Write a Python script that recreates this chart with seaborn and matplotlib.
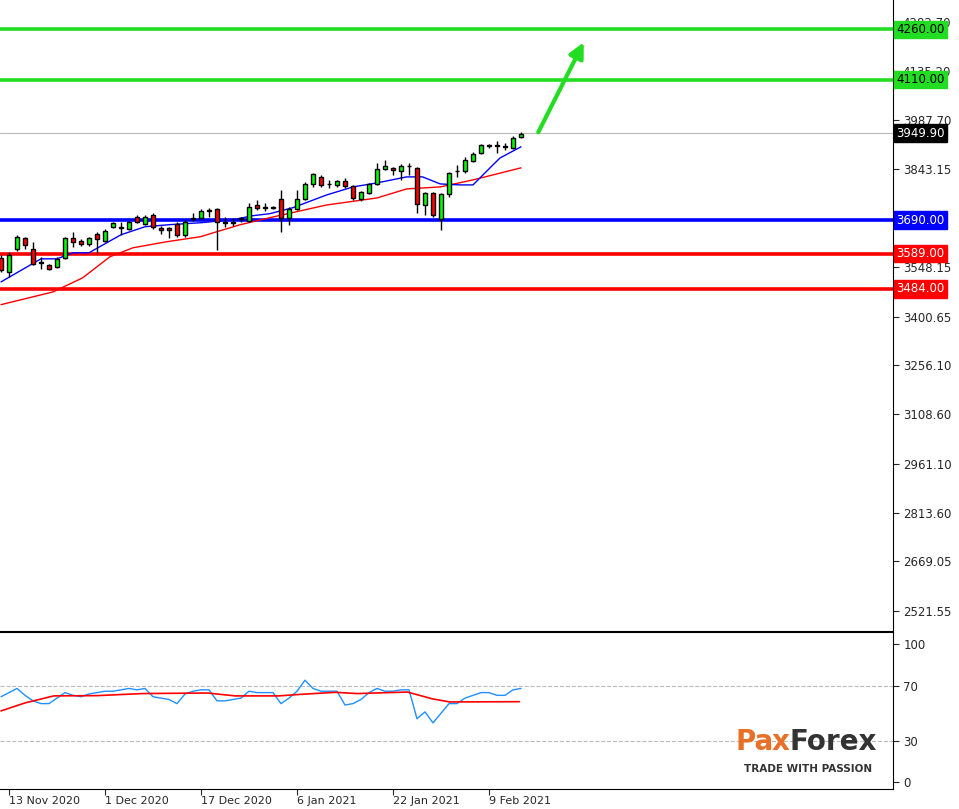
import matplotlib
matplotlib.use("Agg")
import matplotlib.pyplot as plt
import numpy as np
import pandas as pd
import seaborn as sns

# ── data ──────────────────────────────────────────────────────────────────────
opens = [3577, 3535, 3604, 3637, 3604, 3562, 3556, 3550, 3577, 3637, 3628, 3619, 3649, 3628,
         3670, 3666, 3664, 3700, 3679, 3706, 3667, 3667, 3679, 3646, 3692, 3697, 3717, 3724,
         3682, 3682, 3694, 3688, 3735, 3727, 3727, 3753, 3697, 3724, 3753, 3798, 3819, 3797,
         3795, 3807, 3792, 3753, 3771, 3798, 3843, 3846, 3837, 3851, 3846, 3735, 3771, 3694,
         3768, 3836, 3837, 3867, 3891, 3911, 3911, 3908, 3906, 3939]
closes = [3541, 3586, 3640, 3616, 3559, 3565, 3544, 3574, 3637, 3625, 3619, 3637, 3634, 3658,
          3682, 3668, 3685, 3685, 3700, 3670, 3661, 3661, 3646, 3685, 3695, 3718, 3719, 3685,
          3684, 3683, 3695, 3730, 3727, 3728, 3728, 3697, 3724, 3753, 3798, 3828, 3795, 3799,
          3807, 3792, 3756, 3774, 3798, 3843, 3852, 3840, 3852, 3853, 3739, 3771, 3706, 3768,
          3831, 3838, 3870, 3888, 3915, 3913, 3913, 3910, 3936, 3948]
highs = [3586, 3595, 3646, 3640, 3625, 3580, 3560, 3578, 3640, 3655, 3632, 3640, 3655, 3664,
         3685, 3685, 3688, 3706, 3704, 3712, 3672, 3670, 3685, 3690, 3710, 3722, 3725, 3727,
         3700, 3697, 3700, 3740, 3750, 3740, 3733, 3780, 3730, 3780, 3805, 3832, 3825, 3810,
         3810, 3815, 3795, 3778, 3800, 3861, 3870, 3850, 3858, 3860, 3850, 3775, 3775, 3772,
         3835, 3855, 3878, 3892, 3918, 3918, 3925, 3920, 3940, 3952]
lows = [3535, 3520, 3598, 3604, 3556, 3545, 3540, 3548, 3574, 3610, 3612, 3612, 3592, 3625,
        3665, 3645, 3660, 3680, 3676, 3662, 3648, 3637, 3640, 3640, 3688, 3694, 3700, 3601,
        3670, 3672, 3685, 3685, 3720, 3718, 3722, 3655, 3676, 3720, 3750, 3790, 3790, 3785,
        3790, 3785, 3750, 3748, 3768, 3795, 3840, 3825, 3810, 3825, 3712, 3705, 3700, 3661,
        3760, 3820, 3830, 3863, 3888, 3905, 3890, 3900, 3903, 3935]

ma_fast_bar = [0, 5, 7, 9, 11, 15, 18, 21, 25, 29, 31.5, 33.6, 36.5, 40.7, 44, 47, 50.7,
               52.7, 54.9, 57.4, 59, 61.5, 62.4, 65]
ma_fast_val = [3505, 3574, 3574, 3592, 3592, 3646, 3670, 3676, 3682, 3691, 3703, 3709, 3727,
               3765, 3789, 3801, 3819, 3819, 3798, 3795, 3795, 3855, 3876, 3909]
ma_slow_bar = [0, 6.5, 10.2, 13.6, 16.5, 20.7, 24.9, 29.9, 33.6, 40.7, 47, 50.7, 54.9, 59, 65]
ma_slow_val = [3437, 3475, 3517, 3580, 3607, 3625, 3640, 3676, 3697, 3735, 3756, 3783, 3789,
               3810, 3846]

rsi = [62, 65, 68, 63, 59, 57, 57, 61, 65, 63, 62, 64, 65, 66, 66, 67, 68, 67, 68, 62, 61, 60,
       57, 64, 66, 67, 67, 59, 59, 60, 61, 66, 65, 65, 65, 57, 61, 66, 74, 68, 66, 66, 66, 56,
       57, 60, 65, 68, 66, 66, 67, 67, 46, 51, 43, 50, 57, 57, 61, 63, 65, 65, 63, 63, 67, 68]
rsi_sig_bar = [0, 3, 6.6, 12, 17.7, 25.8, 29.3, 34.7, 37.4, 41.8, 44.5, 50.8, 53.9, 56.1, 64.8]
rsi_sig_val = [51.7, 57.5, 62.6, 62.8, 64.3, 64.7, 62.6, 62.6, 63.7, 65.2, 64.3, 65.4, 60.5,
               58.2, 58.4]

date_ticks = [1, 13, 25, 37, 49, 61]
date_labels = ["13 Nov 2020", "1 Dec 2020", "17 Dec 2020", "6 Jan 2021", "22 Jan 2021",
               "9 Feb 2021"]
price_ticks = [4282.70, 4135.20, 3987.70, 3843.15, 3548.15, 3400.65, 3256.10, 3108.60,
               2961.10, 2813.60, 2669.05, 2521.55]
levels = [4260, 4110, 3690, 3589, 3484]
level_colors = ["#22dd22", "#22dd22", "#0000ff", "#ff0000", "#ff0000"]
last_price = 3949.90
arrow_from = (67, 3945)
arrow_to = (73, 4229)

sns.set_style("white")
plt.rcParams["font.family"] = ["DejaVu Sans"]

W, H = 959, 809
fig = plt.figure(figsize=(W / 100, H / 100), dpi=100)
ax = fig.add_axes([0, (H - 630) / H, 893 / W, 630 / H])
ax2 = fig.add_axes([0, (H - 789) / H, 893 / W, 157 / H])

xlim = (-0.125, 111.5)
bars = pd.DataFrame({"o": opens, "c": closes, "h": highs, "l": lows})
bars["i"] = np.arange(len(bars))

# levels
for lv, col in zip(levels, level_colors):
    ax.axhline(lv, color=col, lw=2.6, zorder=1)
ax.axhline(last_price, color="#bbbbbb", lw=0.8, zorder=1)

# moving averages
sns.lineplot(x=ma_slow_bar, y=ma_slow_val, ax=ax, color="#ff0000", lw=1, zorder=2)
sns.lineplot(x=ma_fast_bar, y=ma_fast_val, ax=ax, color="#0000ff", lw=1, zorder=2)

# candles
ax.vlines(bars["i"], bars["l"], bars["h"], color="black", lw=1, zorder=3)
up = bars["c"] >= bars["o"]
body_col = np.where(up, "#00ff00", "#ff0000")
ax.bar(bars["i"], (bars["c"] - bars["o"]).abs().clip(lower=1.5),
       bottom=bars[["o", "c"]].min(axis=1), width=0.6, color=body_col,
       edgecolor="black", lw=1, zorder=4)

ax.annotate("", xy=arrow_to, xytext=arrow_from,
            arrowprops=dict(arrowstyle="-|>,head_length=0.9,head_width=0.45",
                            color="#22dd22", lw=3), zorder=5)

ax.set_xlim(*xlim)
ax.set_ylim(2464, 4348)
ax.yaxis.tick_right()
ax.set_yticks(price_ticks)
ax.set_yticklabels([f"{p:.2f}" for p in price_ticks], fontsize=8.5)
ax.set_xticks([])
ax.tick_params(axis="y", length=4, direction="out", right=True, pad=3)
for s in ["top", "left", "bottom"]:
    ax.spines[s].set_visible(False)
ax.spines["right"].set_color("black")

# price boxes on the axis
box_items = [(4260, "#22dd22", "black"), (4110, "#22dd22", "black"),
             (last_price, "black", "white"), (3690, "#0000ff", "white"),
             (3589, "#ff0000", "white"), (3484, "#ff0000", "white")]
for val, bg, fg in box_items:
    ax.text(1.004, val, f"{val:.2f}", transform=ax.get_yaxis_transform(),
            ha="left", va="center", fontsize=8.5, color=fg, zorder=10,
            bbox=dict(boxstyle="square,pad=0.18", fc=bg, ec=bg))

# RSI
ax2.axhline(70, color="#bbbbbb", lw=0.8, ls="--")
ax2.axhline(30, color="#bbbbbb", lw=0.8, ls="--")
sns.lineplot(x=np.arange(len(rsi)), y=rsi, ax=ax2, color="#1e90ff", lw=1)
sns.lineplot(x=rsi_sig_bar, y=rsi_sig_val, ax=ax2, color="#ff0000", lw=1.2)
ax2.set_xlim(*xlim)
ax2.set_ylim(-5, 109)
ax2.yaxis.tick_right()
ax2.set_yticks([100, 70, 30, 0])
ax2.set_yticklabels(["100", "70", "30", "0"], fontsize=8.5)
ax2.set_xticks(date_ticks)
ax2.set_xticklabels(date_labels, fontsize=8, ha="left")
ax2.tick_params(axis="x", length=4, direction="out", bottom=True, pad=1)
ax2.tick_params(axis="y", length=4, direction="out", right=True)
for s in ["top", "left", "right", "bottom"]:
    ax2.spines[s].set_color("black")
ax2.spines["left"].set_visible(False)
ax2.spines["top"].set_linewidth(1.5)

# logo
fig.text(735 / W, 1 - 742 / H, "Pa", fontsize=20, color="#e8712a", fontweight="bold",
         va="center", ha="left")
fig.text(772 / W, 1 - 742 / H, "x", fontsize=20, color="#e8712a", fontweight="bold",
         va="center", ha="left")
fig.text(789 / W, 1 - 742 / H, "Forex", fontsize=20, color="#333333", fontweight="bold",
         va="center", ha="left")
fig.text(808 / W, 1 - 769 / H, "TRADE WITH PASSION", fontsize=7.5, color="#333333",
         fontweight="bold", va="center", ha="center")

fig.savefig("out.png", dpi=100)
